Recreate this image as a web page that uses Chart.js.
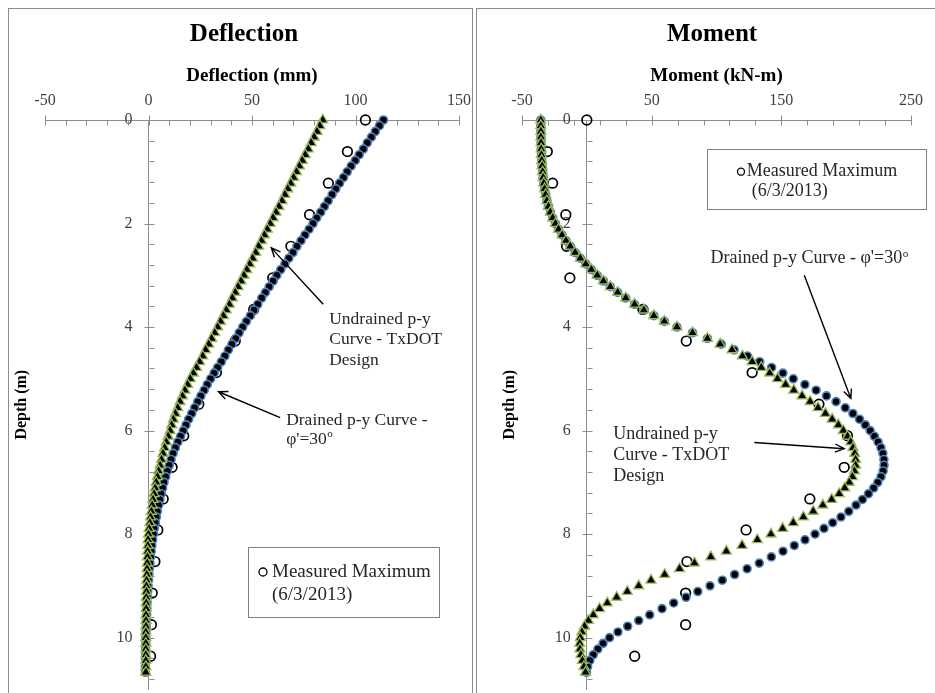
<!DOCTYPE html>
<html>
<head>
<meta charset="utf-8">
<script src="https://cdn.jsdelivr.net/npm/chart.js@4.4.0/dist/chart.umd.min.js"></script>
<style>
html, body { margin: 0; padding: 0; background: #fff; overflow: hidden; }
.frame { position: absolute; top: 8px; height: 720px; border: 1.5px solid #8c8c8c; box-sizing: border-box; }
canvas { position: absolute; top: 9px; }
</style>
</head>
<body>
<div class="frame" style="left:8px; width:465px"></div>
<div class="frame" style="left:476px; width:470px"></div>
<canvas id="chartDefl" width="463" height="690" style="left:9px"></canvas>
<canvas id="chartMom" width="458" height="690" style="left:477px"></canvas>
<script>
// model nodes down the pile (m), same for both p-y runs
const depth = [
  0, 0.11, 0.22, 0.33, 0.44, 0.56, 0.67, 0.78, 0.89,
  1, 1.11, 1.22, 1.33, 1.44, 1.56, 1.67, 1.78, 1.89,
  2, 2.11, 2.22, 2.33, 2.44, 2.56, 2.67, 2.78, 2.89,
  3, 3.11, 3.22, 3.33, 3.44, 3.56, 3.67, 3.78, 3.89,
  4, 4.11, 4.22, 4.33, 4.44, 4.56, 4.67, 4.78, 4.89,
  5, 5.11, 5.22, 5.33, 5.44, 5.56, 5.67, 5.78, 5.89,
  6, 6.11, 6.22, 6.33, 6.44, 6.56, 6.67, 6.78, 6.89,
  7, 7.11, 7.22, 7.33, 7.44, 7.56, 7.67, 7.78, 7.89,
  8, 8.11, 8.22, 8.33, 8.44, 8.56, 8.67, 8.78, 8.89,
  9, 9.11, 9.22, 9.33, 9.44, 9.56, 9.67, 9.78, 9.89,
  10, 10.11, 10.22, 10.33, 10.44, 10.56, 10.67
];

// deflection (mm)
const deflDrained = [
  113.5, 111.6, 109.6, 107.7, 105.7, 103.8, 101.8, 99.9, 97.9,
  96.0, 94.2, 92.3, 90.5, 88.7, 86.8, 85.0, 83.2, 81.3,
  79.5, 77.6, 75.6, 73.7, 71.7, 69.8, 67.8, 65.9, 63.9,
  62.0, 60.2, 58.3, 56.5, 54.7, 52.8, 51.0, 49.2, 47.3,
  45.5, 43.8, 42.1, 40.3, 38.6, 36.9, 35.2, 33.4, 31.7,
  30.0, 28.4, 26.9, 25.3, 23.8, 22.3, 20.9, 19.4, 18.1,
  16.8, 15.5, 14.2, 13.0, 11.9, 10.9, 10.0, 9.1, 8.3,
  7.5, 6.8, 6.1, 5.5, 4.9, 4.3, 3.8, 3.3, 2.8,
  2.4, 2.0, 1.6, 1.3, 1.0, 0.7, 0.4, 0.2, 0.0,
  -0.2, -0.4, -0.5, -0.7, -0.8, -0.9, -1.0, -1.1, -1.2,
  -1.3, -1.3, -1.4, -1.4, -1.4, -1.5, -1.5
];
const deflUndrained = [
  84.2, 82.8, 81.4, 80.0, 78.6, 77.2, 75.7, 74.3, 72.9,
  71.5, 70.1, 68.7, 67.3, 65.9, 64.5, 63.0, 61.6, 60.2,
  58.8, 57.4, 56.0, 54.6, 53.2, 51.8, 50.3, 48.9, 47.5,
  46.1, 44.7, 43.3, 41.9, 40.5, 39.1, 37.6, 36.2, 34.8,
  33.4, 32.0, 30.5, 29.1, 27.6, 26.2, 24.7, 23.2, 21.7,
  20.2, 18.9, 17.6, 16.4, 15.2, 14.1, 13.0, 12.0, 11.2,
  10.4, 9.5, 8.6, 7.8, 7.0, 6.3, 5.6, 4.9, 4.3,
  3.7, 3.2, 2.7, 2.2, 1.8, 1.4, 1.0, 0.7, 0.3,
  0.0, -0.2, -0.3, -0.4, -0.5, -0.6, -0.7, -0.8, -0.9,
  -1.0, -1.0, -1.1, -1.1, -1.1, -1.2, -1.2, -1.2, -1.3,
  -1.3, -1.3, -1.3, -1.3, -1.3, -1.3, -1.3
];

// bending moment (kN-m)
const momDrained = [
  -35.5, -35.5, -35.4, -35.4, -35.3, -35.2, -35.0, -34.8, -34.5,
  -34.1, -33.7, -33.2, -32.6, -31.8, -30.8, -29.6, -28.1, -26.3,
  -24.2, -21.8, -19.1, -16.1, -12.8, -9.0, -5.0, -0.8, 3.5,
  8.0, 12.8, 18.1, 23.8, 30.0, 36.8, 44.0, 51.7, 59.8,
  69.5, 81.5, 93.0, 103.6, 113.6, 123.9, 133.3, 142.5, 151.2,
  159.2, 168.2, 176.8, 184.8, 192.2, 199.3, 205.2, 210.3, 214.8,
  218.5, 221.8, 224.6, 226.8, 228.3, 229.1, 229.2, 228.5, 226.9,
  224.4, 221.2, 217.2, 212.6, 207.6, 202.0, 196.0, 189.6, 182.9,
  176.0, 168.3, 160.0, 151.3, 142.3, 133.0, 123.6, 114.0, 104.5,
  95.0, 85.6, 76.5, 67.0, 58.0, 48.5, 40.0, 31.5, 24.0,
  17.5, 12.5, 8.5, 5.0, 2.3, 0.6, -0.3
];
const momUndrained = [
  -35.5, -35.5, -35.4, -35.4, -35.3, -35.2, -35.0, -34.8, -34.5,
  -34.1, -33.7, -33.2, -32.6, -31.8, -30.8, -29.6, -28.1, -26.3,
  -24.2, -21.8, -19.1, -16.1, -12.8, -9.0, -5.0, -0.8, 3.5,
  8.0, 12.8, 18.1, 23.8, 30.0, 36.8, 44.0, 51.7, 59.8,
  69.5, 81.5, 93.0, 102.8, 112.0, 120.0, 127.5, 134.5, 141.0,
  147.0, 153.3, 159.6, 166.0, 172.2, 178.3, 184.0, 189.2, 194.0,
  197.8, 201.0, 203.5, 205.3, 206.6, 207.3, 207.3, 206.4, 204.8,
  202.4, 198.9, 194.6, 188.8, 182.0, 174.6, 167.0, 159.2, 151.0,
  142.0, 131.5, 119.7, 107.6, 95.6, 83.0, 71.5, 60.0, 49.5,
  40.0, 31.2, 23.0, 15.8, 9.8, 5.0, 1.2, -1.8, -3.8,
  -5.0, -5.5, -5.3, -4.5, -3.4, -2.2, -1.0
];

// measured maximum, 6/3/2013
const measDepth = [0, 0.61, 1.22, 1.83, 2.44, 3.05, 3.66, 4.27, 4.88, 5.49, 6.10, 6.71, 7.32, 7.92, 8.53, 9.14, 9.75, 10.36];
const measDefl = [104.8, 96.1, 86.9, 77.8, 68.8, 60.0, 50.8, 41.9, 32.8, 24.3, 17.0, 11.4, 7.1, 4.5, 3.1, 1.8, 1.4, 1.0];
const measMom = [0, -30.5, -26.4, -16.2, -15.6, -13.1, 43.3, 76.7, 127.5, 179, 201, 198.5, 172, 122.8, 77.2, 76.2, 76.2, 36.9];
const measLabel = ['Measured Maximum', '(6/3/2013)'];

const serif = '"Liberation Serif", "Times New Roman", serif';
Chart.defaults.font.family = serif;
Chart.defaults.color = '#404040';

function pts(xs, ys) {
  return xs.map((v, i) => ({ x: v, y: ys[i] }));
}

// text with an optional superscript part after '^'
function noteLine(ctx, txt, x, y, size) {
  const parts = txt.split('^');
  ctx.font = size + 'px ' + serif;
  ctx.fillText(parts[0], x, y);
  if (parts[1]) {
    const w = ctx.measureText(parts[0]).width;
    ctx.font = Math.round(size * 0.62) + 'px ' + serif;
    ctx.fillText(parts[1], x + w + 0.5, y - size * 0.28);
  }
}

const pileBits = {
  id: 'pileBits',
  beforeDatasetsDraw(chart, args, o) {
    const { ctx, scales: { x, y } } = chart;
    const ax = Math.round(x.getPixelForValue(0)) + 0.5;
    const ay = Math.round(y.getPixelForValue(0)) + 0.5;
    ctx.save();
    ctx.strokeStyle = '#8e8e8e';
    ctx.lineWidth = 1;
    ctx.beginPath();
    let n = Math.round((x.max - x.min) / o.xMinor);
    let per = Math.round(o.xMajor / o.xMinor);
    for (let i = 0; i <= n; i++) {
      const px = Math.round(x.getPixelForValue(x.min + i * o.xMinor)) + 0.5;
      ctx.moveTo(px, i % per === 0 ? ay - 5 : ay);
      ctx.lineTo(px, ay + 5);
    }
    n = Math.floor((y.max - y.min) / o.yMinor + 1e-6);
    per = Math.round(o.yMajor / o.yMinor);
    for (let i = 0; i <= n; i++) {
      const py = Math.round(y.getPixelForValue(y.min + i * o.yMinor)) + 0.5;
      ctx.moveTo(i % per === 0 ? ax - 5 : ax, py);
      ctx.lineTo(ax + 5, py);
    }
    ctx.stroke();
    ctx.restore();
  },
  afterDatasetsDraw(chart, args, o) {
    const { ctx, scales: { x, y } } = chart;
    ctx.save();
    ctx.textBaseline = 'middle';

    // plot title
    ctx.fillStyle = '#000';
    ctx.textAlign = 'center';
    ctx.font = 'bold 25px ' + serif;
    ctx.fillText(o.title, o.titleX, o.titleY);

    // depth axis title
    ctx.save();
    ctx.translate(o.yTitleX, (y.top + y.bottom) / 2);
    ctx.rotate(-Math.PI / 2);
    ctx.font = 'bold 16px ' + serif;
    ctx.fillText('Depth (m)', 0, 0);
    ctx.restore();

    // call-outs
    ctx.textAlign = 'left';
    ctx.fillStyle = '#262626';
    o.notes.forEach(nt => {
      const px = x.getPixelForValue(nt.at[0]);
      const py = y.getPixelForValue(nt.at[1]);
      nt.lines.forEach((ln, k) => noteLine(ctx, ln, px, py + k * nt.gap, o.noteSize));
    });
    ctx.strokeStyle = '#000';
    ctx.lineWidth = 1.4;
    o.arrows.forEach(a => {
      const x1 = x.getPixelForValue(a.from[0]), y1 = y.getPixelForValue(a.from[1]);
      const x2 = x.getPixelForValue(a.to[0]), y2 = y.getPixelForValue(a.to[1]);
      const ang = Math.atan2(y2 - y1, x2 - x1), h = 10;
      ctx.beginPath();
      ctx.moveTo(x1, y1);
      ctx.lineTo(x2, y2);
      ctx.moveTo(x2 - h * Math.cos(ang - 0.42), y2 - h * Math.sin(ang - 0.42));
      ctx.lineTo(x2, y2);
      ctx.lineTo(x2 - h * Math.cos(ang + 0.42), y2 - h * Math.sin(ang + 0.42));
      ctx.stroke();
    });

    // legend box for the measured points
    const L = o.legend;
    ctx.fillStyle = '#fff';
    ctx.fillRect(L.left, L.top, L.width, L.height);
    ctx.strokeStyle = '#7f7f7f';
    ctx.lineWidth = 1;
    ctx.strokeRect(L.left + 0.5, L.top + 0.5, L.width, L.height);
    ctx.beginPath();
    ctx.arc(L.left + L.mx, L.top + L.ty, L.r, 0, Math.PI * 2);
    ctx.strokeStyle = '#000';
    ctx.lineWidth = 1.3;
    ctx.stroke();
    ctx.fillStyle = '#262626';
    ctx.font = L.size + 'px ' + serif;
    ctx.fillText(measLabel[0], L.left + L.tx, L.top + L.ty);
    ctx.fillText(measLabel[1], L.left + L.tx2, L.top + L.ty2);
    ctx.restore();
  }
};

function buildChart(id, o) {
  return new Chart(document.getElementById(id), {
    type: 'scatter',
    data: {
      datasets: [
        {
          label: 'Undrained p-y Curve - TxDOT Design',
          data: pts(o.undrained, depth),
          pointStyle: 'triangle', pointRadius: 5.8, borderWidth: 1.3,
          backgroundColor: '#000', borderColor: '#9bbb59',
          order: 0, clip: false
        },
        {
          label: "Drained p-y Curve - φ'=30°",
          data: pts(o.drained, depth),
          pointStyle: 'circle', pointRadius: 4, borderWidth: 1.6,
          backgroundColor: '#000', borderColor: '#4f81bd',
          order: 1, clip: false
        },
        {
          label: measLabel.join(' '),
          data: pts(o.measured, measDepth),
          pointStyle: 'circle', pointRadius: 4.8, borderWidth: 1.7,
          backgroundColor: 'rgba(0,0,0,0)', borderColor: '#000',
          order: 2, clip: false
        }
      ]
    },
    options: {
      responsive: false,
      animation: false,
      events: [],
      layout: { padding: o.pad },
      plugins: {
        legend: { display: false },
        tooltip: { enabled: false },
        pileBits: o.bits
      },
      scales: {
        x: {
          type: 'linear', position: 'top', min: o.xMin, max: o.xMax,
          ticks: { stepSize: o.bits.xMajor, padding: 9.4, font: { size: 16 }, color: '#404040' },
          grid: { display: false, drawTicks: false },
          border: { display: true, color: '#8e8e8e', width: 1 },
          title: {
            display: true, text: o.xTitle, color: '#000',
            font: { size: 19, weight: 'bold' }, padding: { top: 56, bottom: 0 }
          },
          afterFit: s => { s.height = 111; s.paddingLeft = 0; s.paddingRight = 0; }
        },
        y: {
          type: 'linear', position: { x: 0 }, reverse: true, min: 0, max: 11,
          ticks: {
            stepSize: 2, includeBounds: false, padding: 0,
            font: { size: 16 }, color: '#404040',
            callback: v => v + '\u2003'
          },
          grid: { display: false, drawTicks: false },
          border: { display: true, color: '#8e8e8e', width: 1 }
        }
      }
    },
    plugins: [pileBits]
  });
}

buildChart('chartDefl', {
  drained: deflDrained, undrained: deflUndrained, measured: measDefl,
  xMin: -50, xMax: 150, xTitle: 'Deflection (mm)',
  pad: { left: 36, right: 13, top: 0, bottom: 5 },
  bits: {
    title: 'Deflection', titleX: 235, titleY: 26,
    xMajor: 50, xMinor: 10, yMajor: 2, yMinor: 0.4,
    yTitleX: 13, noteSize: 17.5,
    notes: [
      { lines: ['Undrained p-y', 'Curve - TxDOT', 'Design'], at: [87.3, 3.85], gap: 20.4 },
      { lines: ['Drained p-y Curve -', "φ'=30^o"], at: [66.5, 5.8], gap: 19 }
    ],
    arrows: [
      { from: [84.4, 3.56], to: [59.3, 2.47] },
      { from: [63.6, 5.75], to: [33.8, 5.25] }
    ],
    legend: { left: 239, top: 538, width: 191, height: 70, mx: 15, r: 4, tx: 24, ty: 25, tx2: 24, ty2: 48, size: 19 }
  }
});

buildChart('chartMom', {
  drained: momDrained, undrained: momUndrained, measured: measMom,
  xMin: -50, xMax: 250, xTitle: 'Moment (kN-m)',
  pad: { left: 45, right: 24, top: 0, bottom: 5 },
  bits: {
    title: 'Moment', titleX: 235, titleY: 26,
    xMajor: 100, xMinor: 20, yMajor: 2, yMinor: 0.4,
    yTitleX: 33, noteSize: 18,
    notes: [
      { lines: ["Drained p-y Curve - φ'=30^o"], at: [95.4, 2.68], gap: 20 },
      { lines: ['Undrained p-y', 'Curve - TxDOT', 'Design'], at: [20.4, 6.07], gap: 21 }
    ],
    arrows: [
      { from: [167.7, 3.0], to: [203.6, 5.38] },
      { from: [129.2, 6.23], to: [198.5, 6.35] }
    ],
    legend: { left: 230, top: 140, width: 219, height: 60, mx: 34, r: 3.5, tx: 39.7, ty: 22.7, tx2: 44.7, ty2: 42.7, size: 18 }
  }
});
</script>
</body>
</html>
